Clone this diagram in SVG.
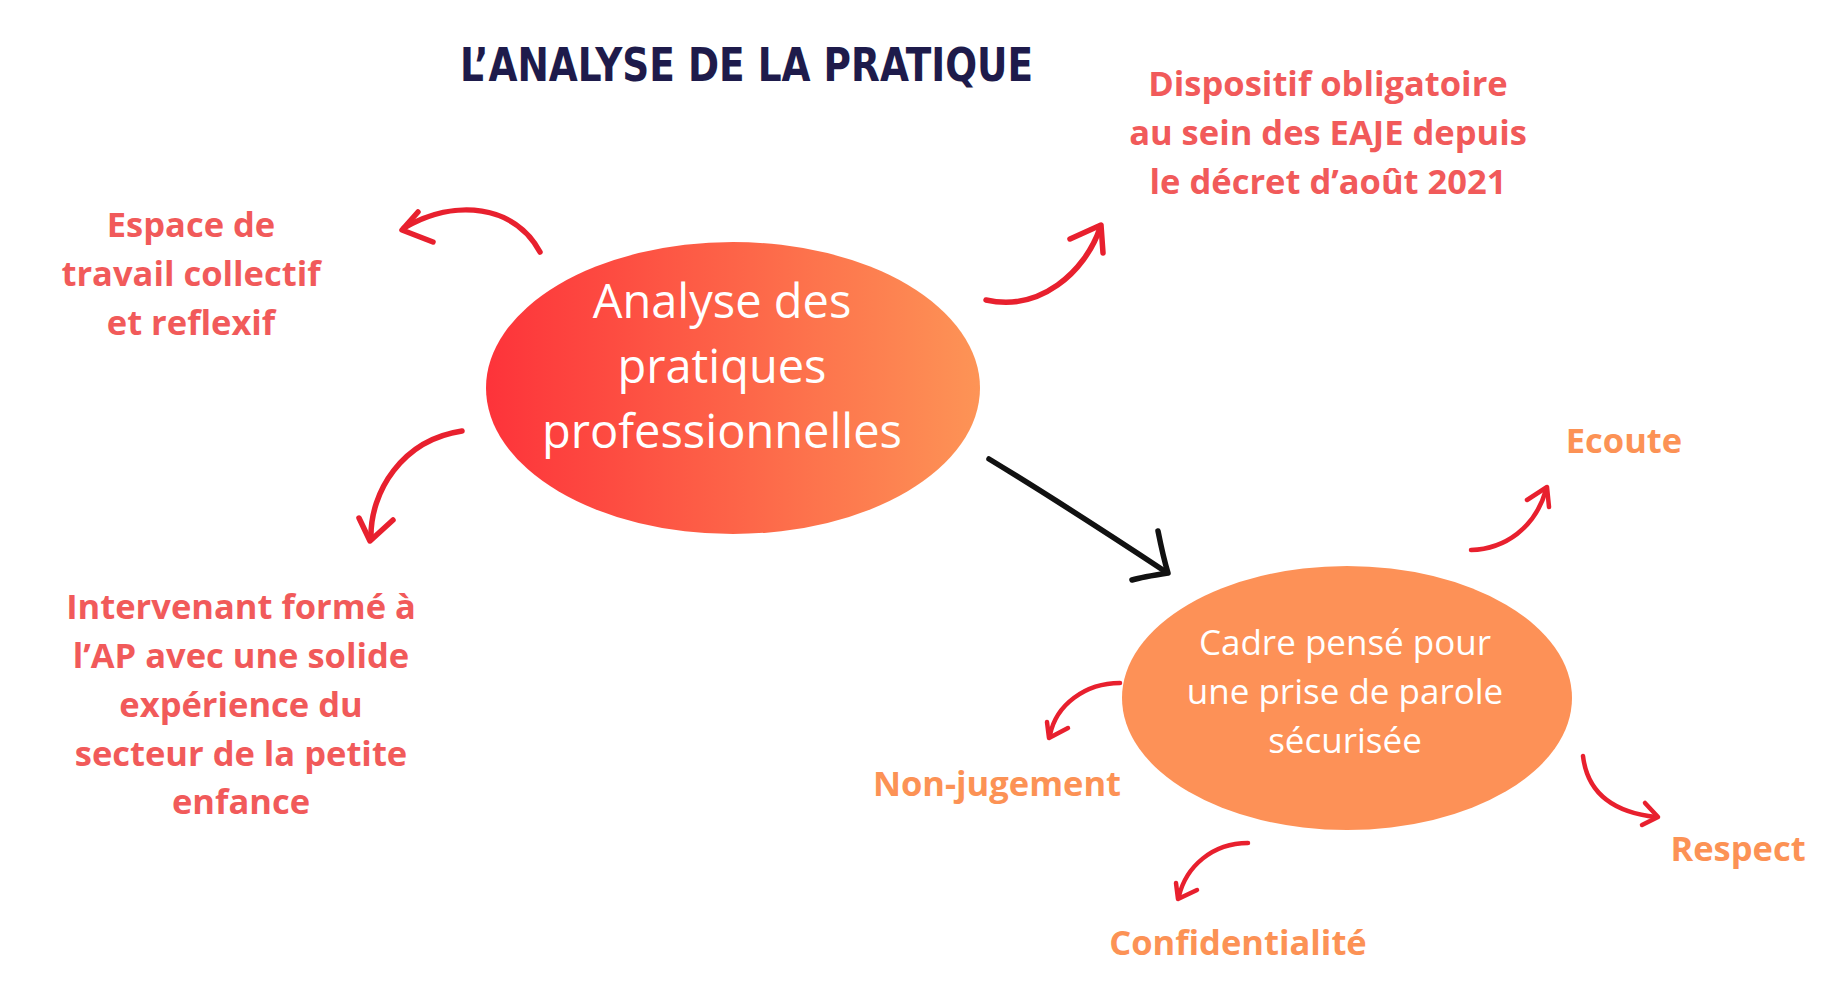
<svg xmlns="http://www.w3.org/2000/svg" width="1823" height="986" viewBox="0 0 1823 986">
<defs>
<linearGradient id="gMain" x1="0" y1="0" x2="1" y2="0">
<stop offset="0" stop-color="#fd333a"/>
<stop offset="1" stop-color="#fd9456"/>
</linearGradient>
<style>
.title{font-family:"DejaVu Sans Condensed","DejaVu Sans",sans-serif;font-weight:bold;font-size:47px;fill:#1e1b4b;}
.node{font-family:"Open Sans","Noto Sans",sans-serif;font-weight:400;fill:#ffffff;text-anchor:middle;}
.lbl{font-family:"Open Sans","Noto Sans",sans-serif;font-weight:700;font-size:34.5px;text-anchor:middle;}
.red{fill:#f15a5a;}
.org{fill:#fc9255;}
.ra{fill:none;stroke:#e8202e;stroke-width:5.5;stroke-linecap:round;stroke-linejoin:round;}
.rs{fill:none;stroke:#e8202e;stroke-width:4.5;stroke-linecap:round;stroke-linejoin:round;}
.ba{fill:none;stroke:#111111;stroke-width:5.5;stroke-linecap:round;stroke-linejoin:round;}
</style>
</defs>
<rect width="1823" height="986" fill="#ffffff"/>

<g id="title">
<text class="title" x="460" y="81" textLength="573" lengthAdjust="spacingAndGlyphs">L’ANALYSE DE LA PRATIQUE</text>
</g>

<g id="node-main">
<ellipse cx="733" cy="388" rx="247" ry="146" fill="url(#gMain)"/>
<text class="node" font-size="47" x="722"><tspan x="722" y="318">Analyse des</tspan><tspan x="722" y="383">pratiques</tspan><tspan x="722" y="448">professionnelles</tspan></text>
</g>

<g id="node-cadre">
<ellipse cx="1347" cy="698" rx="225" ry="132" fill="#fd9157"/>
<text class="node" font-size="35" x="1345"><tspan x="1345" y="655">Cadre pensé pour</tspan><tspan x="1345" y="704">une prise de parole</tspan><tspan x="1345" y="753">sécurisée</tspan></text>
</g>

<g id="label-espace">
<text class="lbl red"><tspan x="191" y="237">Espace de</tspan><tspan x="191" y="286">travail collectif</tspan><tspan x="191" y="335">et reflexif</tspan></text>
</g>

<g id="label-dispositif">
<text class="lbl red"><tspan x="1328" y="96">Dispositif obligatoire</tspan><tspan x="1328" y="145">au sein des EAJE depuis</tspan><tspan x="1328" y="194">le décret d’août 2021</tspan></text>
</g>

<g id="label-intervenant">
<text class="lbl red"><tspan x="241" y="619">Intervenant formé à</tspan><tspan x="241" y="668">l’AP avec une solide</tspan><tspan x="241" y="717">expérience du</tspan><tspan x="241" y="766">secteur de la petite</tspan><tspan x="241" y="814">enfance</tspan></text>
</g>

<g id="label-ecoute">
<text class="lbl org" x="1624" y="453">Ecoute</text>
</g>
<g id="label-nonjugement">
<text class="lbl org" x="997" y="796">Non-jugement</text>
</g>
<g id="label-respect">
<text class="lbl org" x="1738" y="861">Respect</text>
</g>
<g id="label-confidentialite">
<text class="lbl org" x="1238" y="955">Confidentialité</text>
</g>

<g id="connectors">
<!-- to Espace -->
<path class="ra" d="M540,252 C515,205 455,198 404,228"/>
<path class="ra" d="M418,212 L402,230 L433,242"/>
<!-- to Dispositif -->
<path class="ra" d="M986,300 C1040,312 1085,272 1100,228"/>
<path class="ra" d="M1070,239 L1101,225 L1103,253"/>
<!-- to Intervenant -->
<path class="ra" d="M462,431 C402,440 370,492 371,538"/>
<path class="ra" d="M359,518 L370,541 L393,520"/>
<!-- main to cadre -->
<path class="ba" d="M989,459 C1040,490 1110,535 1166,572"/>
<path class="ba" d="M1158,531 C1161,546 1164,560 1168,573 C1155,575 1142,577 1132,580"/>
<!-- Ecoute -->
<path class="rs" d="M1471,550 C1505,549 1535,528 1546,490"/>
<path class="rs" d="M1527,500 L1547,487 L1549,507"/>
<!-- Non-jugement -->
<path class="rs" d="M1120,683 C1085,683 1056,705 1050,735"/>
<path class="rs" d="M1047,722 L1049,738 L1068,728"/>
<!-- Respect -->
<path class="rs" d="M1583,756 C1587,790 1610,812 1656,817"/>
<path class="rs" d="M1645,803 L1658,817 L1642,825"/>
<!-- Confidentialite -->
<path class="rs" d="M1248,843 C1212,843 1186,867 1179,896"/>
<path class="rs" d="M1176,883 L1178,899 L1197,890"/>
</g>
</svg>
